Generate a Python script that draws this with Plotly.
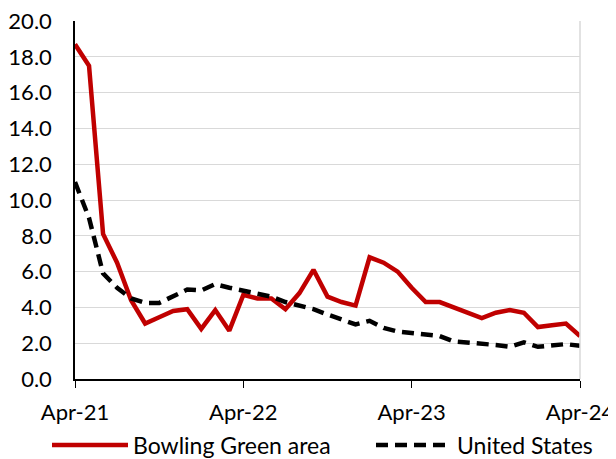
import plotly.graph_objects as go

months = list(range(37))  # Apr-21 .. Apr-24, monthly index
tick_positions = [0, 12, 24, 36]
tick_labels = ["Apr-21", "Apr-22", "Apr-23", "Apr-24"]

bowling_green = [18.7, 17.5, 8.1, 6.5, 4.4, 3.1, 3.45, 3.8, 3.9, 2.8, 3.85, 2.7,
                 4.7, 4.5, 4.5, 3.9, 4.8, 6.1, 4.6, 4.3, 4.1, 6.8, 6.5, 6.0,
                 5.1, 4.3, 4.3, 4.0, 3.7, 3.4, 3.7, 3.85, 3.7, 2.9, 3.0, 3.1, 2.4]
united_states = [11.0, 9.0, 5.9, 5.1, 4.5, 4.25, 4.25, 4.6, 5.0, 4.95, 5.3, 5.1,
                 4.95, 4.8, 4.6, 4.3, 4.1, 3.9, 3.6, 3.3, 3.05, 3.25, 2.85, 2.65,
                 2.55, 2.5, 2.4, 2.1, 2.05, 2.0, 1.9, 1.8, 2.05, 1.8, 1.9, 1.95, 1.85]

FONT = "Lato, Carlito, 'Liberation Sans', sans-serif"

# page body has an 8px margin, so the figure is laid out 8px smaller and shifted
W, H = 608, 451
L, T, PW, PH = 67, 13, 505, 358
LEG_Y = -(437 - (T + PH)) / PH

fig = go.Figure()
fig.add_trace(go.Scatter(x=months, y=bowling_green, mode="lines", name="Bowling Green area",
                         line=dict(color="#C00000", width=4.5), legend="legend"))
fig.add_trace(go.Scatter(x=months, y=united_states, mode="lines", name="United States",
                         line=dict(color="#000000", width=4.5, dash="12px,7px"), legend="legend2"))

legend_common = dict(orientation="h", xref="paper", yref="paper", xanchor="left",
                     yanchor="middle", font=dict(size=23), bgcolor="rgba(0,0,0,0)",
                     itemwidth=76, tracegroupgap=0)

fig.update_layout(
    width=W, height=H,
    margin=dict(l=L, r=W - L - PW, t=T, b=H - T - PH, pad=0, autoexpand=False),
    paper_bgcolor="white", plot_bgcolor="white",
    font=dict(family=FONT, size=22, color="#000000"),
    showlegend=True,
    legend=dict(x=(39 - L) / PW, y=LEG_Y, **legend_common),
    legend2=dict(x=(363 - L) / PW, y=LEG_Y, **legend_common),
    xaxis=dict(range=[0, 36], tickmode="array", tickvals=tick_positions, ticktext=tick_labels,
               showgrid=False, zeroline=False, showline=True, linecolor="#000000", linewidth=1.5,
               ticks="outside", ticklen=7, tickcolor="#000000", tickwidth=1,
               tickfont=dict(size=22), ticklabelstandoff=6, automargin=False,
               ticklabeloverflow="allow"),
    yaxis=dict(range=[0, 20], dtick=2, tickformat=".1f", showgrid=True, gridcolor="#D9D9D9",
               gridwidth=1.2, zeroline=False, showline=True, linecolor="#000000", linewidth=1.5,
               ticks="", tickfont=dict(size=22), ticklabelstandoff=17, automargin=False,
               ticklabeloverflow="allow"),
    shapes=[
        dict(type="line", xref="paper", yref="paper", x0=1, x1=1, y0=0, y1=1,
             line=dict(color="#D9D9D9", width=1.5)),
    ],
)

fig.write_html("out.html")
